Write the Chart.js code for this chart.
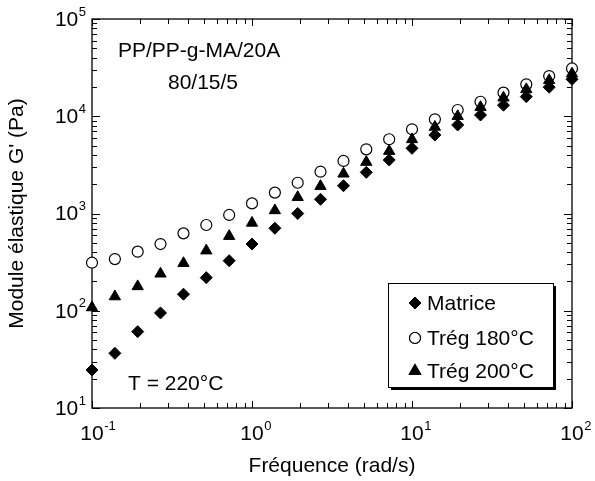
<!DOCTYPE html>
<html>
<head>
<meta charset="utf-8">
<script src="https://cdn.jsdelivr.net/npm/chart.js@4/dist/chart.umd.min.js"></script>
<style>
  body { margin: 0; background: #fff; }
  canvas { display: block; }
</style>
</head>
<body>
<canvas id="modulusChart" width="595" height="481"></canvas>
<script>
// frequencies (rad/s)
const frequencies = [0.1, 0.139, 0.193, 0.268, 0.373, 0.518, 0.72, 1, 1.39, 1.93, 2.68,
    3.73, 5.18, 7.2, 10, 13.9, 19.3, 26.8, 37.3, 51.8, 72, 100];

// G' (Pa)
const matrice = [24.6, 36.5, 61, 95, 148, 219, 327, 485, 705, 1000, 1400,
    1930, 2650, 3550, 4680, 6410, 8130, 10300, 13000, 15900, 19900, 24000];
const treg180 = [312, 340, 405, 485, 625, 762, 966, 1270, 1640, 2070, 2690,
    3470, 4570, 5800, 7340, 9300, 11600, 14100, 17500, 21300, 25900, 31000];
const treg200 = [108, 140, 178, 240, 308, 415, 585, 800, 1075, 1470, 1910,
    2560, 3380, 4380, 5780, 7750, 10000, 12400, 15500, 18900, 23400, 27400];

const seriesLabels = ['Matrice', 'Tr\u00e9g 180\u00b0C', 'Tr\u00e9g 200\u00b0C'];
const xDecades = [0.1, 1, 10, 100];
const xExponents = ['-1', '0', '1', '2'];
const yDecades = [10, 100, 1000, 10000, 100000];
const yExponents = ['1', '2', '3', '4', '5'];

const FONT = '"Liberation Sans", Arial, sans-serif';

function pairs(ys) {
    return frequencies.map((f, i) => ({ x: f, y: ys[i] }));
}

// frame, inward ticks and 10^n labels
const framePlugin = {
    id: 'frame',
    beforeDatasetsDraw(chart) {
        const ctx = chart.ctx;
        const a = chart.chartArea;
        const xs = chart.scales.x, ys = chart.scales.y;
        ctx.save();
        ctx.strokeStyle = '#000';
        ctx.lineWidth = 1.3;
        ctx.strokeRect(a.left, a.top, a.right - a.left, a.bottom - a.top);
        ctx.lineWidth = 1;
        ctx.beginPath();
        for (let d = 0.1; d < 100; d *= 10) {
            for (let m = 1; m <= 10; m++) {
                const v = d * m;
                const px = Math.round(xs.getPixelForValue(v)) + 0.5;
                const len = (m === 1 || m === 10) ? 7 : 5;
                ctx.moveTo(px, a.bottom); ctx.lineTo(px, a.bottom - len);
                ctx.moveTo(px, a.top); ctx.lineTo(px, a.top + len);
            }
        }
        for (let d = 10; d < 100000; d *= 10) {
            for (let m = 1; m <= 10; m++) {
                const v = d * m;
                const py = Math.round(ys.getPixelForValue(v)) + 0.5;
                const len = (m === 1 || m === 10) ? 8 : 5;
                ctx.moveTo(a.left, py); ctx.lineTo(a.left + len, py);
                ctx.moveTo(a.right, py); ctx.lineTo(a.right - len, py);
            }
        }
        ctx.stroke();

        ctx.fillStyle = '#000';
        // x tick labels
        xDecades.forEach((v, i) => {
            const px = xs.getPixelForValue(v);
            ctx.font = '21px ' + FONT;
            ctx.textBaseline = 'middle';
            ctx.textAlign = 'center';
            ctx.fillText('10', px, 434);
            const w = ctx.measureText('10').width;
            ctx.font = '13px ' + FONT;
            ctx.textAlign = 'left';
            ctx.fillText(xExponents[i], px + w / 2 + 0.5, 426);
        });
        // y tick labels
        yDecades.forEach((v, i) => {
            const py = ys.getPixelForValue(v);
            ctx.font = '13px ' + FONT;
            const sw = ctx.measureText(yExponents[i]).width;
            ctx.textAlign = 'right';
            ctx.textBaseline = 'middle';
            ctx.fillText(yExponents[i], 86, py - 7);
            ctx.font = '21px ' + FONT;
            ctx.fillText('10', 86 - sw - 0.5, py + 1);
        });

        // axis titles
        ctx.font = '21px ' + FONT;
        ctx.textAlign = 'center';
        ctx.textBaseline = 'middle';
        ctx.fillText('Fr\u00e9quence (rad/s)', (a.left + a.right) / 2, 466);
        ctx.save();
        ctx.translate(17, (a.top + a.bottom) / 2);
        ctx.rotate(-Math.PI / 2);
        ctx.fillText("Module \u00e9lastique G' (Pa)", 0, 0);
        ctx.restore();

        // annotations
        ctx.textAlign = 'left';
        ctx.fillText('PP/PP-g-MA/20A', 118, 51);
        ctx.textAlign = 'center';
        ctx.fillText('80/15/5', 203, 83);
        ctx.textAlign = 'left';
        ctx.fillText('T = 220\u00b0C', 128, 384);
        ctx.restore();
    },
    afterDraw(chart) {
        // legend box with shadow
        const ctx = chart.ctx;
        const bx = 388, by = 283, bw = 165, bh = 104;
        ctx.save();
        ctx.fillStyle = '#000';
        ctx.fillRect(bx + 3, by + 3, bw, bh);
        ctx.fillStyle = '#fff';
        ctx.fillRect(bx, by, bw, bh);
        ctx.strokeStyle = '#000';
        ctx.lineWidth = 1;
        ctx.strokeRect(bx + 0.5, by + 0.5, bw, bh);
        const rows = [303, 338, 371];
        chart.data.datasets.forEach((ds, i) => {
            Chart.helpers.drawPoint(ctx, {
                pointStyle: ds.pointStyle,
                radius: ds.pointRadius,
                borderWidth: ds.pointBorderWidth,
                rotation: 0
            }, 415, rows[i]);
            ctx.fillStyle = ds.pointBackgroundColor;
            ctx.strokeStyle = ds.pointBorderColor;
            ctx.lineWidth = ds.pointBorderWidth;
            ctx.fill();
            ctx.stroke();
            ctx.fillStyle = '#000';
            ctx.font = '21px ' + FONT;
            ctx.textAlign = 'left';
            ctx.textBaseline = 'middle';
            ctx.fillText(ds.label, 427, rows[i] + 1);
        });
        ctx.restore();
    }
};

const ctx = document.getElementById('modulusChart').getContext('2d');
new Chart(ctx, {
    type: 'scatter',
    data: {
        datasets: [{
            label: seriesLabels[0],
            data: pairs(matrice),
            pointStyle: 'rectRot',
            pointRadius: 6,
            pointBorderWidth: 1,
            pointBackgroundColor: '#000',
            pointBorderColor: '#000',
            order: 0,
            clip: false
        }, {
            label: seriesLabels[1],
            data: pairs(treg180),
            pointStyle: 'circle',
            pointRadius: 5.5,
            pointBorderWidth: 1.2,
            pointBackgroundColor: '#fff',
            pointBorderColor: '#000',
            order: 2,
            clip: false
        }, {
            label: seriesLabels[2],
            data: pairs(treg200),
            pointStyle: 'triangle',
            pointRadius: 6.5,
            pointBorderWidth: 1,
            pointBackgroundColor: '#000',
            pointBorderColor: '#000',
            order: 1,
            clip: false
        }]
    },
    options: {
        responsive: false,
        animation: false,
        layout: {
            padding: { left: 92, right: 23, top: 19, bottom: 73 }
        },
        plugins: {
            legend: { display: false },
            tooltip: { enabled: false }
        },
        scales: {
            x: {
                type: 'logarithmic',
                min: 0.1,
                max: 100,
                ticks: { display: false },
                grid: { display: false, drawTicks: false },
                border: { display: false },
                afterFit: s => { s.height = 0; }
            },
            y: {
                type: 'logarithmic',
                min: 10,
                max: 100000,
                ticks: { display: false },
                grid: { display: false, drawTicks: false },
                border: { display: false },
                afterFit: s => { s.width = 0; }
            }
        }
    },
    plugins: [framePlugin]
});
</script>
</body>
</html>
